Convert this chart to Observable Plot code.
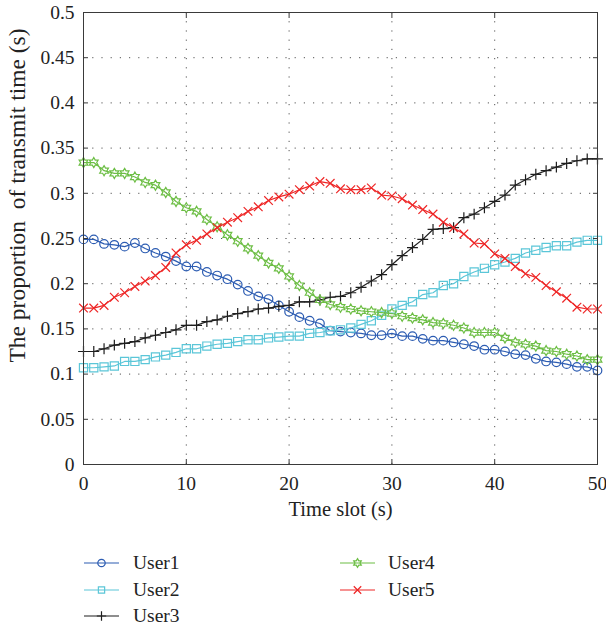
<!DOCTYPE html>
<html><head><meta charset="utf-8">
<script src="https://cdn.jsdelivr.net/npm/d3@7"></script>
<script src="https://cdn.jsdelivr.net/npm/@observablehq/plot@0.6"></script>
<style>
body{margin:0;background:#fff;font-family:"Liberation Serif","Times New Roman",serif;}
#wrap{position:relative;width:606px;height:631px;overflow:hidden;}
#chart svg{display:block;}
#chart svg text{font-family:"Liberation Serif","Times New Roman",serif !important;font-variant:normal !important;}
.item{position:absolute;height:26px;display:flex;align-items:center;font-size:19.5px;color:#222;font-family:"Liberation Serif","Times New Roman",serif;}
.item svg{display:block;}
</style></head><body>
<div id="wrap"><div id="chart"></div></div>
<script>
const timeSlots = [0,1,2,3,4,5,6,7,8,9,10,11,12,13,14,15,16,17,18,19,20,21,22,23,24,25,26,27,28,29,30,31,32,33,34,35,36,37,38,39,40,41,42,43,44,45,46,47,48,49,50];
const users = ["User1","User2","User3","User4","User5"];
const user1 = [0.249,0.249,0.244,0.243,0.241,0.245,0.239,0.234,0.230,0.225,0.219,0.219,0.213,0.209,0.205,0.199,0.192,0.186,0.183,0.176,0.169,0.163,0.159,0.156,0.148,0.147,0.146,0.145,0.143,0.143,0.145,0.142,0.142,0.139,0.137,0.137,0.135,0.133,0.131,0.127,0.127,0.125,0.122,0.121,0.117,0.114,0.113,0.111,0.108,0.108,0.104];
const user2 = [0.107,0.107,0.108,0.109,0.114,0.114,0.116,0.119,0.121,0.124,0.128,0.128,0.131,0.133,0.134,0.136,0.138,0.138,0.140,0.141,0.142,0.142,0.145,0.146,0.148,0.149,0.151,0.155,0.159,0.165,0.172,0.176,0.180,0.188,0.190,0.198,0.200,0.208,0.213,0.217,0.221,0.224,0.228,0.234,0.237,0.240,0.242,0.242,0.246,0.248,0.248];
const user3 = [0.125,0.125,0.128,0.132,0.134,0.136,0.140,0.143,0.146,0.149,0.154,0.154,0.158,0.160,0.164,0.167,0.169,0.172,0.173,0.175,0.176,0.180,0.180,0.182,0.185,0.186,0.190,0.196,0.203,0.210,0.221,0.231,0.240,0.249,0.260,0.261,0.262,0.273,0.277,0.284,0.291,0.298,0.309,0.315,0.321,0.325,0.329,0.333,0.336,0.338,0.338];
const user4 = [0.334,0.334,0.325,0.322,0.322,0.318,0.312,0.309,0.301,0.291,0.284,0.280,0.271,0.263,0.254,0.247,0.239,0.231,0.223,0.217,0.208,0.198,0.190,0.182,0.177,0.174,0.172,0.170,0.169,0.168,0.167,0.164,0.162,0.160,0.157,0.156,0.154,0.151,0.146,0.146,0.146,0.140,0.135,0.133,0.131,0.126,0.125,0.122,0.120,0.116,0.116];
const user5 = [0.173,0.173,0.176,0.185,0.190,0.197,0.203,0.209,0.218,0.234,0.243,0.248,0.255,0.262,0.268,0.273,0.280,0.285,0.292,0.296,0.299,0.304,0.308,0.313,0.311,0.305,0.304,0.304,0.306,0.298,0.297,0.294,0.287,0.282,0.277,0.268,0.262,0.255,0.245,0.244,0.233,0.228,0.219,0.211,0.207,0.198,0.191,0.184,0.174,0.172,0.172];
const xTicks = [0,10,20,30,40,50];
const xTickLabels = ["0","10","20","30","40","50"];
const yTicks = [0,0.05,0.1,0.15,0.2,0.25,0.3,0.35,0.4,0.45,0.5];
const yTickLabels = ["0","0.05","0.1","0.15","0.2","0.25","0.3","0.35","0.4","0.45","0.5"];
const xLabel = "Time slot (s)";
const yLabel = "The proportion\u00a0 of transmit time (s)";

const series = [user1,user2,user3,user4,user5];
const colors = ["#2C5CB2","#5BC6D8","#1E1E1E","#6DBE45","#EE2626"];
const FONT = "'Liberation Serif', 'Times New Roman', serif";

const hexagram = {draw(ctx, size){
  const R = Math.sqrt(size/Math.PI)*1.15, r = R/Math.sqrt(3);
  for (let k=0;k<12;k++){
    const a = -Math.PI/2 + k*Math.PI/6, rr = k%2===0?R:r;
    const x = rr*Math.cos(a), y = rr*Math.sin(a);
    if (k===0) ctx.moveTo(x,y); else ctx.lineTo(x,y);
  }
  ctx.closePath();
}};
const symbols = ["circle","square","plus",hexagram,"times"];
const d3symbols = [d3.symbolCircle,d3.symbolSquare2,d3.symbolPlus,hexagram,d3.symbolTimes];
const radii = [4.3,4.6,3.6,4.4,4.0];

const rows = [];
users.forEach((u,k)=>timeSlots.forEach((t,i)=>rows.push({user:u,x:t,y:series[k][i]})));

const marks = [
  Plot.gridX(xTicks,{stroke:"#555",strokeOpacity:1,strokeDasharray:"1.2,8"}),
  Plot.gridY(yTicks,{stroke:"#555",strokeOpacity:1,strokeDasharray:"1.2,8"}),
];
users.forEach((u,k)=>{
  const d = rows.filter(r=>r.user===u);
  marks.push(Plot.line(d,{x:"x",y:"y",stroke:colors[k],strokeWidth:1.2}));
  marks.push(Plot.dot(d,{x:"x",y:"y",stroke:colors[k],fill:"none",strokeWidth:1.2,symbol:symbols[k],r:radii[k]}));
});
marks.push(
  Plot.frame({stroke:"#3a3a3a",strokeWidth:1}),
  Plot.axisX({ticks:xTicks,tickFormat:(d)=>xTickLabels[xTicks.indexOf(d)],tickSize:0,tickPadding:12,label:null,fontSize:19.5,fill:"#222",fontFamily:FONT}),
  Plot.axisY({ticks:yTicks,tickFormat:(d)=>yTickLabels[yTicks.indexOf(d)],tickSize:0,tickPadding:9,label:null,fontSize:19.5,fill:"#222",fontFamily:FONT}),
  Plot.axisX({anchor:"bottom",ticks:xTicks,tickSize:-5,tickFormat:()=>"",label:null,stroke:"#3a3a3a"}),
  Plot.axisX({anchor:"top",ticks:xTicks,tickSize:-5,tickFormat:()=>"",label:null,stroke:"#3a3a3a"}),
  Plot.axisY({anchor:"left",ticks:yTicks,tickSize:-5,tickFormat:()=>"",label:null,stroke:"#3a3a3a"}),
  Plot.axisY({anchor:"right",ticks:yTicks,tickSize:-5,tickFormat:()=>"",label:null,stroke:"#3a3a3a"}),
  Plot.text([xLabel],{frameAnchor:"bottom",textAnchor:"middle",dy:51,fontSize:20.5,fill:"#222",fontFamily:FONT}),
  Plot.text([yLabel],{frameAnchor:"left",textAnchor:"middle",dx:-66,dy:-43,rotate:-90,fontSize:23.5,fill:"#222",fontFamily:FONT})
);

const chart = Plot.plot({
  width:606, height:530,
  marginLeft:83, marginRight:9, marginTop:12, marginBottom:66,
  style:{fontFamily:FONT, background:"#fff", color:"#222", overflow:"visible"},
  x:{domain:[0,50]},
  y:{domain:[0,0.5]},
  marks
});
d3.select(chart).selectAll("text").style("font-family", FONT);
document.getElementById("chart").appendChild(chart);

// legend below the plot
const wrap = document.getElementById("wrap");
users.forEach((u,k)=>{
  const col = k<3?0:1, row = k<3?k:k-3;
  const item = document.createElement("div");
  item.className = "item";
  item.style.left = (col===0?84:340)+"px";
  item.style.top = (563 + row*26.5 - 13)+"px";
  const sz = radii[k]*radii[k]*Math.PI*0.75;
  const path = d3.symbol().type(d3symbols[k]).size(sz)();
  item.innerHTML = `<svg width="35" height="16"><line x1="0" x2="35" y1="8" y2="8" stroke="${colors[k]}" stroke-width="1.2"/><path d="${path}" transform="translate(17.5,8)" fill="none" stroke="${colors[k]}" stroke-width="1.2"/></svg><span style="margin-left:${col===0?14:13}px">${u}</span>`;
  wrap.appendChild(item);
});
</script>
</body></html>
